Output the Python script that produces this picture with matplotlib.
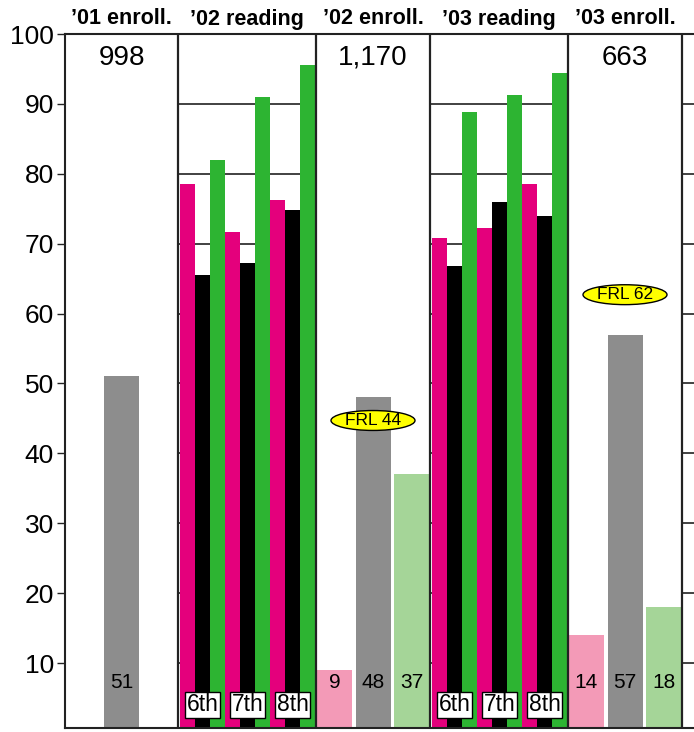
import matplotlib
matplotlib.use('Agg')
import matplotlib.pyplot as plt
from matplotlib.patches import Rectangle, Ellipse
import numpy as np

plt.rcParams['font.family'] = ['Liberation Sans', 'DejaVu Sans']

# column headers and layout kinds
headers = ['\u201901 enroll.', '\u201902 reading', '\u201902 enroll.', '\u201903 reading', '\u201903 enroll.']
kinds = ['enroll', 'reading', 'enroll', 'reading', 'enroll']
grades = ['6th', '7th', '8th']

# enrollment panels
enroll_counts = ['998', '1,170', '663']
enroll_pink = [None, 9, 14]
enroll_gray = [51, 48, 57]
enroll_green = [None, 37, 18]
frl = [None, 44, 62]

# reading panels, one value per grade
read02_pink = [78.6, 71.6, 76.2]
read02_black = [65.5, 67.3, 74.8]
read02_green = [82.0, 91.0, 95.6]
read03_pink = [70.8, 72.3, 78.5]
read03_black = [66.8, 75.9, 74.0]
read03_green = [88.9, 91.3, 94.4]

PINK = '#E4007C'
GREEN = '#2DB432'
LPINK = '#F39AB7'
GRAY = '#8D8D8D'
LGREEN = '#A5D598'
EDGE = '#222222'

panel_widths = [113, 138, 114, 138, 114]
edges = np.concatenate([[0], np.cumsum(panel_widths)])
xmax = edges[-1] + 12
ymin = 0.7

fig = plt.figure(figsize=(6.94, 7.32), dpi=100)
ax = fig.add_axes([65 / 694, 4 / 732, xmax / 694, 694 / 732])
ax.set_xlim(0, xmax)
ax.set_ylim(ymin, 100)

ax.set_yticks(range(10, 101, 10))
ax.set_xticks([])
ax.set_axisbelow(True)
ax.yaxis.grid(True, color='#333333', lw=1.3)
ax.tick_params(axis='y', direction='out', length=6, width=1, pad=2,
               labelsize=19, color=EDGE)
for side in ['left', 'top', 'bottom']:
    ax.spines[side].set_color(EDGE)
    ax.spines[side].set_linewidth(1.5)
ax.spines['right'].set_visible(False)

reading = [(read02_pink, read02_black, read02_green),
           (read03_pink, read03_black, read03_green)]
r = 0
e = 0
hdr_tf = ax.get_xaxis_transform()
for p, kind in enumerate(kinds):
    x0, x1 = edges[p], edges[p + 1]
    xc = (x0 + x1) / 2
    ax.text(xc, 1 + 15 / 694, headers[p], transform=hdr_tf, ha='center', va='center',
            fontsize=15.5, fontweight='bold')
    if kind == 'reading':
        series = reading[r]
        for g in range(3):
            for j, (vals, col) in enumerate(zip(series, [PINK, 'black', GREEN])):
                left = x0 + 2 + (3 * g + j) * 15
                ax.bar(left, vals[g], width=15, align='edge', color=col, zorder=2)
            mid = x0 + 2 + (3 * g + 1) * 15 + 7.5
            ax.text(mid, 4.0, grades[g], ha='center', va='center', fontsize=16.5, zorder=5,
                    bbox=dict(boxstyle='square,pad=0.08', fc='white', ec='black', lw=1))
        r += 1
    else:
        ax.add_patch(Rectangle((x0, ymin), x1 - x0, 100 - ymin, fc='white', ec='none', zorder=1))
        trio = [enroll_pink[e], enroll_gray[e], enroll_green[e]]
        for k, (val, col) in enumerate(zip(trio, [LPINK, GRAY, LGREEN])):
            if val is None:
                continue
            bx = xc + (k - 1) * 38.5
            ax.bar(bx, val, width=35, color=col, zorder=2)
            ax.text(bx, 7.2, str(val), ha='center', va='center', fontsize=15, zorder=3)
        ax.text(xc, 96.6, enroll_counts[e], ha='center', va='center', fontsize=20, zorder=3)
        if frl[e] is not None:
            ax.add_patch(Ellipse((xc, frl[e] + 0.7), 84, 2.85, fc='#FFFF00', ec='black',
                                 lw=1, zorder=4))
            ax.text(xc, frl[e] + 0.7, f'FRL {frl[e]}', ha='center', va='center',
                    fontsize=12.5, zorder=5)
        e += 1

# panel borders
for x in edges[1:]:
    ax.axvline(x, color=EDGE, lw=1.6, zorder=3)

fig.savefig('out.png', dpi=100)
